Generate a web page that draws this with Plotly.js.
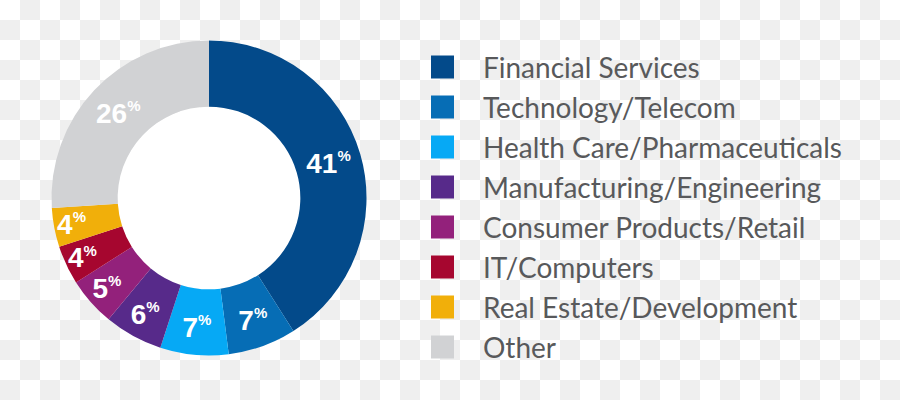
<!DOCTYPE html>
<html>
<head>
<meta charset="utf-8">
<script src="https://cdn.plot.ly/plotly-3.0.1.min.js"></script>
<style>
  html, body { margin: 0; padding: 0; }
  body {
    width: 900px; height: 400px;
    background: repeating-conic-gradient(#efefef 0 25%, #ffffff 0 50%) 0 0 / 40px 40px;
  }
  #chart { width: 900px; height: 400px; }
</style>
</head>
<body>
<div id="chart"></div>
<script>
var categories = [
    'Financial Services',
    'Technology/Telecom',
    'Health Care/Pharmaceuticals',
    'Manufacturing/Engineering',
    'Consumer Products/Retail',
    'IT/Computers',
    'Real Estate/Development',
    'Other'
];
var shares = [41, 7, 7, 6, 5, 4, 4, 26];
var colors = ['#034a8a', '#066db5', '#06a9f5', '#572a8a', '#93217b', '#a6062f', '#f1af0a', '#d1d2d4'];

var W = 900, H = 400;
// donut centre and outer radius, in pixels
var cx = 209, cy = 198, R = 157.5, holeFrac = 0.58;

function dom(c, r, size) { return [(c - r) / size, (c + r) / size]; }

var donut = {
    type: 'pie',
    labels: categories,
    values: shares,
    sort: false,
    direction: 'clockwise',
    rotation: 0,
    hole: holeFrac,
    domain: { x: dom(cx, R, W), y: dom(H - cy, R, H) },
    marker: { colors: colors, line: { width: 0 } },
    texttemplate: '<b>%{value}<sup><span style="font-size:15px">%</span></sup></b>',
    textposition: 'inside',
    insidetextorientation: 'horizontal',
    textfont: { family: 'Liberation Sans Narrow, Liberation Sans, Arial, sans-serif', size: 28, color: '#ffffff' },
    hoverinfo: 'skip',
    showlegend: false
};

// white fill for the hole
var holeFill = {
    type: 'pie',
    values: [1],
    labels: [' '],
    sort: false,
    domain: { x: dom(cx, R * holeFrac, W), y: dom(H - cy, R * holeFrac, H) },
    marker: { colors: ['#ffffff'], line: { width: 0 } },
    textinfo: 'none',
    hoverinfo: 'skip',
    showlegend: false
};

// legend built from the category list
var shapes = [], annotations = [];
var legX = 431, box = 23, textX = 481, rowY0 = 67, rowStep = 40;
categories.forEach(function (name, i) {
    var yc = rowY0 + i * rowStep;
    shapes.push({
        type: 'rect', xref: 'paper', yref: 'paper',
        x0: legX / W, x1: (legX + box) / W,
        y0: 1 - (yc + box / 2) / H, y1: 1 - (yc - box / 2) / H,
        fillcolor: colors[i], line: { width: 0 }
    });
    annotations.push({
        text: name, xref: 'paper', yref: 'paper',
        x: textX / W, y: 1 - yc / H,
        xanchor: 'left', yanchor: 'middle', showarrow: false,
        font: { family: 'Lato, sans-serif', size: 28, color: '#58595b' }
    });
});

var layout = {
    width: W,
    height: H,
    margin: { l: 0, r: 0, t: 0, b: 0 },
    paper_bgcolor: 'rgba(0,0,0,0)',
    plot_bgcolor: 'rgba(0,0,0,0)',
    showlegend: false,
    uniformtext: { mode: 'show', minsize: 28 },
    shapes: shapes,
    annotations: annotations
};

Plotly.newPlot('chart', [holeFill, donut], layout, { displayModeBar: false, staticPlot: true });
</script>
</body>
</html>
